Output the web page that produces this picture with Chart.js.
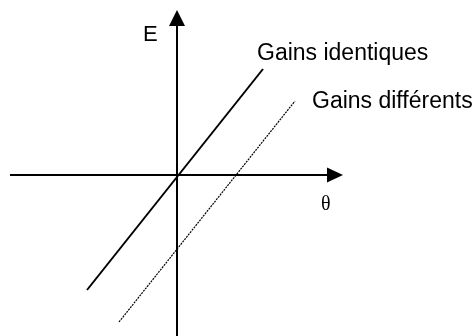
<!DOCTYPE html>
<html>
<head>
<meta charset="utf-8">
<style>
html,body{margin:0;padding:0;background:#fff;}
#wrap{width:476px;height:336px;}
</style>
<script src="https://cdn.jsdelivr.net/npm/chart.js@4"></script>
</head>
<body>
<div id="wrap"><canvas id="c" width="476" height="336"></canvas></div>
<script>
// Data in units relative to the axes origin (x right, y up)
const solidLine = [{x: -90, y: -115}, {x: 86, y: 106}];   // Gains identiques
const dottedLine = [{x: -58, y: -147}, {x: 118, y: 74}];  // Gains différents
const xAxisLine = [{x: -167, y: 0}, {x: 160, y: 0}];
const yAxisLine = [{x: 0, y: -165}, {x: 0, y: 158}];
const xArrowTip = {x: 166, y: 0};
const yArrowTip = {x: 0, y: 165};
const labels = [
  {text: 'E', x: -34, y: 134, font: '22px "Liberation Sans", Arial, sans-serif'},
  {text: 'Gains identiques', x: 80, y: 115, font: '23px "Liberation Sans", Arial, sans-serif'},
  {text: 'Gains différents', x: 135, y: 67, font: '23px "Liberation Sans", Arial, sans-serif'},
  {text: 'θ', x: 144, y: -35, font: '20px "Liberation Serif", "Times New Roman", serif'}
];

const overlay = {
  id: 'overlay',
  afterDatasetsDraw(chart) {
    const ctx = chart.ctx, xs = chart.scales.x, ys = chart.scales.y;
    ctx.save();
    ctx.fillStyle = '#000';
    // arrowheads
    const tx = xs.getPixelForValue(xArrowTip.x), ty = ys.getPixelForValue(xArrowTip.y);
    ctx.beginPath();
    ctx.moveTo(tx, ty); ctx.lineTo(tx - 16, ty - 7.5); ctx.lineTo(tx - 16, ty + 7.5); ctx.closePath(); ctx.fill();
    const ux = xs.getPixelForValue(yArrowTip.x), uy = ys.getPixelForValue(yArrowTip.y);
    ctx.beginPath();
    ctx.moveTo(ux, uy); ctx.lineTo(ux - 8, uy + 16); ctx.lineTo(ux + 8, uy + 16); ctx.closePath(); ctx.fill();
    // labels
    ctx.textBaseline = 'alphabetic';
    ctx.textAlign = 'left';
    labels.forEach(l => {
      ctx.font = l.font;
      ctx.fillText(l.text, xs.getPixelForValue(l.x), ys.getPixelForValue(l.y));
    });
    ctx.restore();
  }
};

new Chart(document.getElementById('c'), {
  type: 'scatter',
  data: {
    datasets: [
      {data: xAxisLine, showLine: true, borderColor: '#000', borderWidth: 2, pointRadius: 0},
      {data: yAxisLine, showLine: true, borderColor: '#000', borderWidth: 2, pointRadius: 0},
      {data: solidLine, showLine: true, borderColor: '#000', borderWidth: 2, pointRadius: 0},
      {data: dottedLine, showLine: true, borderColor: '#000', borderWidth: 1.2, borderDash: [2, 1], pointRadius: 0}
    ]
  },
  options: {
    responsive: false,
    animation: false,
    layout: {padding: 0},
    plugins: {legend: {display: false}, tooltip: {enabled: false}},
    scales: {
      x: {type: 'linear', min: -177, max: 299, display: false},
      y: {type: 'linear', min: -161, max: 175, display: false}
    }
  },
  plugins: [overlay]
});
</script>
</body>
</html>
